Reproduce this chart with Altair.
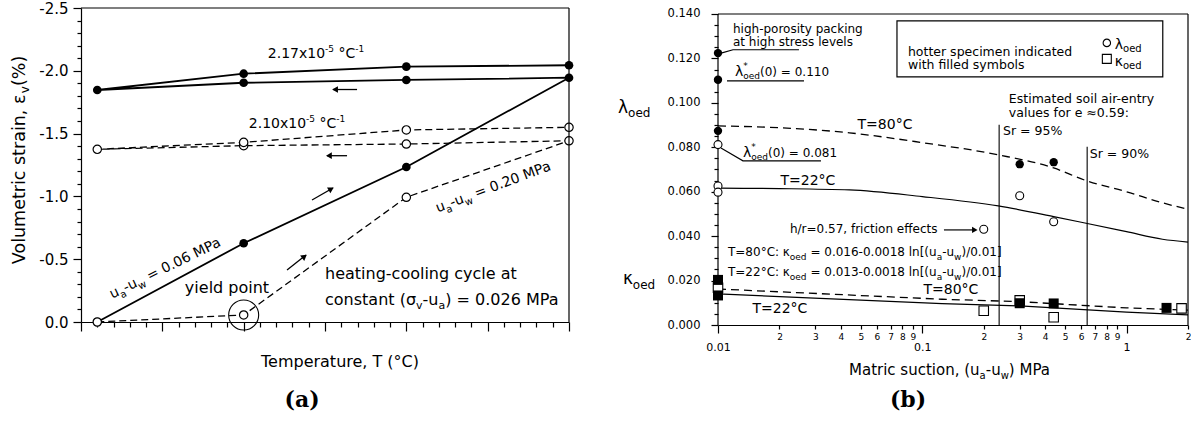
import altair as alt
import pandas as pd

FONT = "DejaVu Sans"
SERIF = "DejaVu Serif"

# ---------------- data: panel (a) ----------------
temp_path = [22, 40, 60, 80, 60, 40, 22, 40, 60, 80]
strain_s006 = [0.0, -0.627, -1.234, -1.945, -1.927, -1.905, -1.847, -1.977, -2.033, -2.044]
strain_s020 = [0.0, -0.056, -0.993, -1.443, -1.417, -1.404, -1.375, -1.430, -1.529, -1.550]

# ---------------- data: panel (b) ----------------
lam22_suction = [0.01, 0.01, 0.01, 0.2, 0.3, 0.44]
lam22_value = [0.0812, 0.0626, 0.0598, 0.0431, 0.0582, 0.0465]
lam80_suction = [0.01, 0.01, 0.01, 0.3, 0.44]
lam80_value = [0.1224, 0.1104, 0.0874, 0.0724, 0.0733]
kap22_suction = [0.01, 0.2, 0.3, 0.44, 1.86]
kap22_value = [0.0168, 0.0064, 0.0111, 0.0035, 0.0075]
kap80_suction = [0.01, 0.01, 0.3, 0.44, 1.57]
kap80_value = [0.0203, 0.0133, 0.0098, 0.0097, 0.0077]

curve_suction = [0.01, 0.02, 0.044, 0.1, 0.2355, 0.44, 0.634, 1.0, 1.5, 2.0]
lam80_curve = [0.0896, 0.0888, 0.0865, 0.0821, 0.0766, 0.0707, 0.0650, 0.0600, 0.0550, 0.0521]
lam22_curve = [0.0616, 0.0614, 0.0608, 0.0578, 0.0536, 0.0488, 0.0458, 0.0420, 0.0386, 0.0373]
kap_curve_suction = [0.01, 0.125, 0.3, 1.0, 2.0]
kap80_curve = [0.0162, 0.0116, 0.0105, 0.0077, 0.0067]
kap22_curve = [0.0140, 0.0096, 0.0086, 0.0058, 0.0046]
sr_suction = [0.2379, 0.6417]
sr_top = [0.0901, 0.0802]

# ---------------- text helpers ----------------
W = {' ': .318, '!': .401, '%': .950, '(': .390, ')': .390, '*': .500, '+': .838,
     ',': .318, '-': .361, '.': .318, '/': .337, ':': .337, '=': .838, '[': .390, ']': .390,
     '°': .500, '≈': .838, 'λ': .592, 'κ': .579, 'σ': .634, 'ε': .541}
for d in "0123456789":
    W[d] = .636
W.update(dict(zip("ABCDEFGHIJKLMNOPQRSTUVWXYZ",
    [.684, .686, .698, .770, .632, .575, .775, .752, .295, .295, .656, .557, .863, .748, .787,
     .603, .787, .695, .635, .611, .732, .684, .989, .685, .611, .685])))
W.update(dict(zip("abcdefghijklmnopqrstuvwxyz",
    [.613, .635, .550, .635, .615, .352, .635, .634, .278, .278, .579, .278, .974, .634, .612,
     .635, .635, .411, .521, .392, .634, .592, .818, .592, .592, .525])))


def tw(text, size):
    return sum(W.get(c, 0.6) for c in text) * size


def P(text, size, dy=0, adv=True):
    return (text, size, dy, adv)


def one(x, y):
    return pd.DataFrame({"x": [x], "y": [y]})


def label(x, y, pieces, scales=None, angle=0, anchor="left", font=FONT, weight="normal"):
    total = sum(tw(t, s) for t, s, d, a in pieces if a)
    cur = 0 if anchor == "left" else (-total / 2 if anchor == "center" else -total)
    out = []
    for t, s, d, a in pieces:
        core = t.strip()
        lead = tw(t[:len(t) - len(t.lstrip())], s)
        if len(pieces) == 1:
            al, dx = anchor, 0
        else:
            al, dx = "left", cur + lead
        mk = alt.Chart(one(x, y)).mark_text(
            text=core, align=al, baseline="alphabetic", dx=dx, dy=d,
            angle=angle % 360, fontSize=s, font=font, fontWeight=weight, color="black")
        if scales is not None:
            enc = dict(x=alt.X("x:Q", scale=scales[0], axis=None),
                       y=alt.Y("y:Q", scale=scales[1], axis=None))
        else:
            enc = dict(x=alt.value(x), y=alt.value(y))
        out.append(mk.encode(**enc))
        if a:
            cur += tw(t, s)
    return out


def spacer(px, py):
    return alt.Chart(one(0, 0)).mark_point(filled=True, opacity=0, size=1).encode(
        x=alt.value(px), y=alt.value(py))


def frame(rows, scales):
    df = pd.DataFrame(rows, columns=["x", "y", "x2", "y2"])
    return alt.Chart(df).mark_rule(color="black", strokeWidth=1.2).encode(
        x=alt.X("x:Q", scale=scales[0], axis=None), y=alt.Y("y:Q", scale=scales[1], axis=None),
        x2="x2:Q", y2="y2:Q")


AX = dict(title=None, grid=False, tickWidth=1.2, domainWidth=1.2, labelOverlap=False)

# ================= panel (a) =================
xa = alt.Scale(domain=[20, 80], nice=False, zero=False)
ya = alt.Scale(domain=[-2.5, 0], reverse=True, nice=False, zero=False)
SA = (xa, ya)

xa_major = alt.Axis(orient="bottom", values=list(range(20, 81, 10)), labels=False, tickSize=9, **AX)
xa_minor = alt.Axis(orient="bottom", values=[v for v in range(20, 81, 2) if v % 10], labels=False,
                    tickSize=5, domain=False, **AX)
ya_major = alt.Axis(orient="left", values=[-2.5, -2.0, -1.5, -1.0, -0.5, 0.0],
                    labelExpr="replace(format(datum.value, '.1f'), '\u2212', '-')",
                    tickSize=8, labelFontSize=15, labelPadding=5, **AX)
ya_minor = alt.Axis(orient="left", values=[round(-2.5 + 0.1 * i, 1) for i in range(26) if i % 5],
                    labels=False, tickSize=4, domain=False, **AX)

df006 = pd.DataFrame({"T": temp_path, "e": strain_s006, "i": list(range(len(temp_path)))})
df020 = pd.DataFrame({"T": temp_path, "e": strain_s020, "i": list(range(len(temp_path)))})

line006 = alt.Chart(df006).mark_line(color="black", strokeWidth=1.8).encode(
    x=alt.X("T:Q", scale=xa, axis=xa_major), y=alt.Y("e:Q", scale=ya, axis=ya_major), order="i:Q")
line020 = alt.Chart(df020).mark_line(color="black", strokeWidth=1.3, strokeDash=[7, 4]).encode(
    x=alt.X("T:Q", scale=xa, axis=xa_minor), y=alt.Y("e:Q", scale=ya, axis=ya_minor), order="i:Q")
pts006 = alt.Chart(df006).mark_point(shape="circle", filled=True, color="black", size=75, opacity=1).encode(
    x=alt.X("T:Q", scale=xa, axis=None), y=alt.Y("e:Q", scale=ya, axis=None))
pts020 = alt.Chart(df020).mark_point(shape="circle", filled=True, fill="white", stroke="black",
                                     strokeWidth=1.2, size=70, opacity=1).encode(
    x=alt.X("T:Q", scale=xa, axis=None), y=alt.Y("e:Q", scale=ya, axis=None))

yield_circle = alt.Chart(one(40, -0.056)).mark_point(shape="circle", size=900, filled=False,
                                                    color="black", strokeWidth=1.1, opacity=1).encode(
    x=alt.X("x:Q", scale=xa, axis=None), y=alt.Y("y:Q", scale=ya, axis=None))

arrows_a = pd.DataFrame({"x": [51.0, 50.25, 48.40, 45.33], "y": [-1.851, -1.324, -0.971, -0.414],
                         "x2": [53.94, 52.71, 50.98, 47.66], "y2": [-1.851, -1.324, -1.067, -0.533]})
heads_a = pd.DataFrame({"x": [51.35, 50.6, 50.66, 47.38], "y": [-1.851, -1.324, -1.055, -0.517],
                        "a": [270, 270, 60, 52]})
shafts_a = alt.Chart(arrows_a).mark_rule(color="black", strokeWidth=1.3).encode(
    x=alt.X("x:Q", scale=xa, axis=None), y=alt.Y("y:Q", scale=ya, axis=None), x2="x2:Q", y2="y2:Q")
tips_a = alt.Chart(heads_a).mark_point(shape="triangle", filled=True, color="black", size=45, opacity=1).encode(
    x=alt.X("x:Q", scale=xa, axis=None), y=alt.Y("y:Q", scale=ya, axis=None),
    angle=alt.Angle("a:Q", scale=None))

frame_a = frame([[20, -2.5, 80, -2.5], [80, -2.5, 80, 0.0]], SA)

texts_a = []
texts_a += label(48.9, -2.102, [P("2.17x10", 14), P("-5", 9, -6), P(" °C", 14), P("-1", 9, -6)], SA, anchor="center")
texts_a += label(46.56, -1.545, [P("2.10x10", 14), P("-5", 9, -6), P(" °C", 14), P("-1", 9, -6)], SA, anchor="center")
texts_a += label(37.95, -0.231, [P("yield point", 16)], SA, anchor="center")
texts_a += label(50.0, -0.342, [P("heating-cooling cycle at", 16)], SA)
texts_a += label(50.0, -0.135, [P("constant (σ", 16), P("v", 11, 4), P("-u", 16), P("a", 11, 4),
                                P(") = 0.026 MPa", 16)], SA)
texts_a += label(30.6, -0.398, [P("u", 14), P("a", 10, 4), P("-u", 14), P("w", 10, 4), P(" = 0.06 MPa", 14)],
                 SA, angle=-26, anchor="center")
texts_a += label(70.9, -1.043, [P("u", 14), P("a", 10, 4), P("-u", 14), P("w", 10, 4), P(" = 0.20 MPa", 14)],
                 SA, angle=-20.6, anchor="center")
# titles (pixel positions relative to the plot area)
texts_a += label(-56, 152, [P("Volumetric strain, ε", 17.5), P("v", 12, 4), P("(%)", 17.5)],
                 None, angle=-90, anchor="center")
texts_a += label(259, 359, [P("Temperature, T (°C)", 16)], None, anchor="center")
texts_a += label(221, 399, [P("(a)", 22)], None, anchor="center", font=SERIF, weight="bold")

panel_a = alt.layer(line006, line020, pts006, pts020, yield_circle, shafts_a, tips_a, frame_a,
                    *texts_a, spacer(-80.5, -7.5), spacer(496, 0)).properties(
    width=488, height=314).resolve_axis(x="independent", y="independent")

# ================= panel (b) =================
YTOP_B = 0.1427  # plot area reaches 6 px above the 0.140 frame line
xb = alt.Scale(type="log", domain=[0.01, 2], nice=False)
yb = alt.Scale(domain=[0, YTOP_B], nice=False, zero=False)
SB = (xb, yb)

xb_major = alt.Axis(orient="bottom", values=[0.01, 0.1, 1], labelExpr="toString(datum.value)",
                    labelFontSize=11, labelPadding=8, tickSize=8, labelFlush=False, labelBound=False, **AX)
xb_minor = alt.Axis(orient="bottom",
                    values=[round(k * 0.01, 2) for k in range(2, 10)] + [round(k * 0.1, 1) for k in range(2, 10)] + [2],
                    labelExpr="toString(round(datum.value / pow(10, floor(log(datum.value) / LN10 + 0.001))))",
                    labelFontSize=9, labelPadding=3, tickSize=4, domain=False, labelFlush=False,
                    labelBound=False, **AX)
yb_major = alt.Axis(orient="left", values=[round(i * 0.02, 3) for i in range(8)],
                    format=".3f", tickSize=7, labelFontSize=11.5, labelPadding=11, domain=False, **AX)
yb_minor = alt.Axis(orient="left", values=[round(i * 0.005, 3) for i in range(29) if i % 4],
                    labels=False, tickSize=4, domain=False, **AX)

curves = pd.DataFrame({"s": curve_suction, "l80": lam80_curve, "l22": lam22_curve})
kcurves = pd.DataFrame({"s": kap_curve_suction, "k80": kap80_curve, "k22": kap22_curve})

c_l22 = alt.Chart(curves).mark_line(color="black", strokeWidth=1.2, interpolate="monotone").encode(
    x=alt.X("s:Q", scale=xb, axis=xb_major), y=alt.Y("l22:Q", scale=yb, axis=yb_major))
c_l80 = alt.Chart(curves).mark_line(color="black", strokeWidth=1.3, strokeDash=[8, 5], interpolate="monotone").encode(
    x=alt.X("s:Q", scale=xb, axis=xb_minor), y=alt.Y("l80:Q", scale=yb, axis=yb_minor))
c_k22 = alt.Chart(kcurves).mark_line(color="black", strokeWidth=1.2).encode(
    x=alt.X("s:Q", scale=xb, axis=None), y=alt.Y("k22:Q", scale=yb, axis=None))
c_k80 = alt.Chart(kcurves).mark_line(color="black", strokeWidth=1.3, strokeDash=[8, 5]).encode(
    x=alt.X("s:Q", scale=xb, axis=None), y=alt.Y("k80:Q", scale=yb, axis=None))

frame_b = frame([[0.01, 0.0, 0.01, 0.14], [0.01, 0.14, 2, 0.14], [2, 0.0, 2, 0.14]], SB)

sr = pd.DataFrame({"s": sr_suction, "top": sr_top, "bot": [0, 0]})
sr_lines = alt.Chart(sr).mark_rule(color="black", strokeWidth=1.1).encode(
    x=alt.X("s:Q", scale=xb, axis=None), y=alt.Y("top:Q", scale=yb, axis=None), y2="bot:Q")

leaders = pd.DataFrame({
    "s": [0.01046, 0.01184, 0.02491, 0.01107, 0.02636, 0.01034, 0.01325, 0.03192],
    "v": [0.1225, 0.1239, 0.1239, 0.1099, 0.1099, 0.0797, 0.0739, 0.0739],
    "g": [0, 0, 0, 1, 1, 2, 2, 2], "i": [0, 1, 2, 0, 1, 0, 1, 2]})
leader_lines = alt.Chart(leaders).mark_line(color="black", strokeWidth=1.1).encode(
    x=alt.X("s:Q", scale=xb, axis=None), y=alt.Y("v:Q", scale=yb, axis=None), detail="g:N", order="i:Q")

legend_box = alt.Chart(pd.DataFrame({"x": [0.0752], "x2": [1.505], "y": [0.1369], "y2": [0.1117]})).mark_rect(
    fillOpacity=0, stroke="black", strokeWidth=1.2).encode(
    x=alt.X("x:Q", scale=xb, axis=None), x2="x2:Q", y=alt.Y("y:Q", scale=yb, axis=None), y2="y2:Q")
leg_circle = alt.Chart(one(0.801, 0.127)).mark_point(shape="circle", filled=False, color="black",
                                                    strokeWidth=1.1, size=55, opacity=1).encode(
    x=alt.X("x:Q", scale=xb, axis=None), y=alt.Y("y:Q", scale=yb, axis=None))
leg_square = alt.Chart(one(0.801, 0.1198)).mark_point(shape="square", filled=False, color="black",
                                                     strokeWidth=1.1, size=80, opacity=1).encode(
    x=alt.X("x:Q", scale=xb, axis=None), y=alt.Y("y:Q", scale=yb, axis=None))


def pts(sv, vv, shape, filled, size):
    df = pd.DataFrame({"s": sv, "v": vv})
    if filled:
        m = alt.Chart(df).mark_point(shape=shape, filled=True, color="black", size=size, opacity=1)
    else:
        m = alt.Chart(df).mark_point(shape=shape, filled=True, fill="white", stroke="black",
                                     strokeWidth=1.1, size=size, opacity=1)
    return m.encode(x=alt.X("s:Q", scale=xb, axis=None), y=alt.Y("v:Q", scale=yb, axis=None))


p_k22 = pts(kap22_suction, kap22_value, "square", False, 90)
p_k80 = pts(kap80_suction, kap80_value, "square", True, 100)
p_l80 = pts(lam80_suction, lam80_value, "circle", True, 70)
p_l22 = pts(lam22_suction, lam22_value, "circle", False, 64)

arrow_b = alt.Chart(pd.DataFrame({"x": [0.1277], "x2": [0.18], "y": [0.0428]})).mark_rule(
    color="black", strokeWidth=1.2).encode(
    x=alt.X("x:Q", scale=xb, axis=None), x2="x2:Q", y=alt.Y("y:Q", scale=yb, axis=None))
tip_b = alt.Chart(one(0.179, 0.0428)).mark_point(shape="triangle", filled=True, color="black",
                                                 size=40, angle=90, opacity=1).encode(
    x=alt.X("x:Q", scale=xb, axis=None), y=alt.Y("y:Q", scale=yb, axis=None))

texts_b = []
texts_b += label(0.01184, 0.1315, [P("high-porosity packing", 12)], SB)
texts_b += label(0.01184, 0.1257, [P("at high stress levels", 12)], SB)
texts_b += label(0.01211, 0.1122, [P("λ", 14), P("*", 9, -7, False), P("oed", 9, 3), P("(0) = 0.110", 12)], SB)
texts_b += label(0.01325, 0.0757, [P("λ", 14), P("*", 9, -7, False), P("oed", 9, 3), P("(0) = 0.081", 12)], SB)
texts_b += label(0.0657, 0.0883, [P("T=80°C", 14)], SB, anchor="center")
texts_b += label(0.02757, 0.0631, [P("T=22°C", 14)], SB, anchor="center")
texts_b += label(0.02251, 0.0414, [P("h/r=0.57, friction effects", 12)], SB)
texts_b += label(0.01119, 0.0311, [P("T=80°C: κ", 12), P("oed", 9, 4), P(" = 0.016-0.0018 ln[(u", 12),
                                   P("a", 9, 4), P("-u", 12), P("w", 9, 4), P(")/0.01]", 12)], SB)
texts_b += label(0.01119, 0.0221, [P("T=22°C: κ", 12), P("oed", 9, 4), P(" = 0.013-0.0018 ln[(u", 12),
                                   P("a", 9, 4), P("-u", 12), P("w", 9, 4), P(")/0.01]", 12)], SB)
texts_b += label(0.1381, 0.01396, [P("T=80°C", 14)], SB, anchor="center")
texts_b += label(0.02009, 0.0054, [P("T=22°C", 14)], SB, anchor="center")
texts_b += label(0.2655, 0.1000, [P("Estimated soil air-entry", 12.5)], SB)
texts_b += label(0.2655, 0.0937, [P("values for e ≈0.59:", 12.5)], SB)
texts_b += label(0.2487, 0.0856, [P("Sr = 95%", 12.5)], SB)
texts_b += label(0.661, 0.0752, [P("Sr = 90%", 12.5)], SB)
texts_b += label(0.0851, 0.1212, [P("hotter specimen indicated", 12.5)], SB)
texts_b += label(0.0851, 0.1153, [P("with filled symbols", 12.5)], SB)
texts_b += label(0.8764, 0.1243, [P("λ", 14), P("oed", 10, 3)], SB)
texts_b += label(0.8764, 0.1167, [P("κ", 14), P("oed", 10, 3)], SB)
# titles (pixel positions relative to the plot area, whose top is 6 px above the frame)
texts_b += label(-100, 105, [P("λ", 17), P("oed", 12, 4)], None)
texts_b += label(-95, 276, [P("κ", 17), P("oed", 12, 5)], None)
texts_b += label(131, 367, [P("Matric suction, (u", 15), P("a", 10, 4), P("-u", 15), P("w", 10, 4),
                            P(") MPa", 15)], None)
texts_b += label(190, 399, [P("(b)", 22)], None, anchor="center", font=SERIF, weight="bold")

panel_b = alt.layer(c_l22, c_l80, c_k22, c_k80, frame_b, sr_lines, leader_lines, legend_box, leg_circle,
                    leg_square, p_k22, p_k80, p_l80, p_l22, arrow_b, tip_b, *texts_b,
                    spacer(-104, 0)).properties(
    width=470, height=317).resolve_axis(x="independent", y="independent")

chart = alt.hconcat(panel_a, panel_b, spacing=35).properties(
    padding={"left": 0, "top": 0, "right": 0, "bottom": 0}
).configure(background="white").configure_view(strokeWidth=0).configure_axis(
    domainColor="black", tickColor="black", labelColor="black", labelFont=FONT)

chart.save("out.html", embed_options={"renderer": "svg", "actions": False})
